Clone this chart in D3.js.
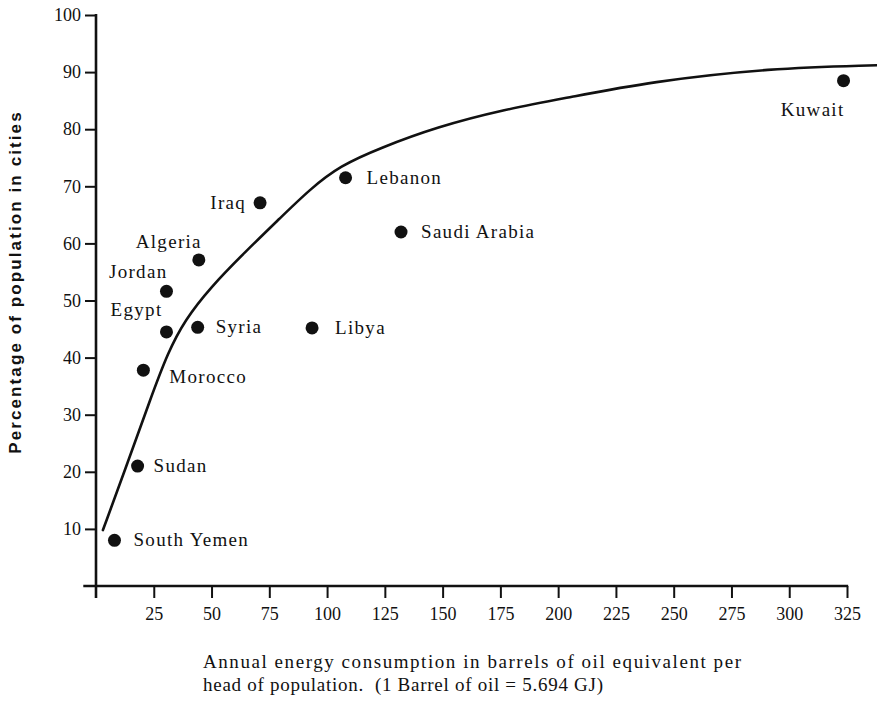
<!DOCTYPE html>
<html>
<head>
<meta charset="utf-8">
<script src="https://cdn.jsdelivr.net/npm/d3@7/dist/d3.min.js"></script>
<style>
  html, body { margin: 0; padding: 0; background: #fff; }
  svg { display: block; }
</style>
</head>
<body>
<svg id="chart" width="877" height="702"></svg>
<script>
// Urbanisation against energy use, Middle East and North Africa
const countries = ["South Yemen", "Sudan", "Morocco", "Egypt", "Jordan", "Syria",
                   "Algeria", "Iraq", "Libya", "Lebanon", "Saudi Arabia", "Kuwait"];
const energyUse = [8, 18, 20.5, 30.5, 30.5, 44, 44.5, 71, 93.5, 108, 132, 323.5];
const urbanPct  = [8, 21, 37.8, 44.5, 51.6, 45.3, 57.1, 67.1, 45.2, 71.5, 62, 88.5];

// Hand-fitted trend curve
const trendX = [3.0, 13.8, 23.4, 31.2, 38.5, 49.3, 64.5, 79.6, 92.6, 105.6, 122.9,
                147.6, 176.1, 205.1, 239.7, 291.7, 338.0];
const trendY = [9.8, 21.7, 32.6, 41.0, 46.6, 52.2, 58.5, 64.4, 69.5, 73.6, 76.7,
                80.4, 83.4, 85.6, 88.3, 90.7, 91.2];

const xTicks = [25, 50, 75, 100, 125, 150, 175, 200, 225, 250, 275, 300, 325];
const yTicks = [10, 20, 30, 40, 50, 60, 70, 80, 90, 100];

// Label placement next to each dot: anchor side and pixel offset
const labelPlace = [
  {a: "start", dx: 19, dy: 6},   // South Yemen
  {a: "start", dx: 16, dy: 6},   // Sudan
  {a: "start", dx: 26, dy: 13},  // Morocco
  {a: "end",   dx: -4, dy: -16}, // Egypt
  {a: "end",   dx: 1,  dy: -13}, // Jordan
  {a: "start", dx: 18, dy: 6},   // Syria
  {a: "end",   dx: 3,  dy: -12}, // Algeria
  {a: "end",   dx: -14, dy: 6},  // Iraq
  {a: "start", dx: 23, dy: 6},   // Libya
  {a: "start", dx: 21, dy: 6},   // Lebanon
  {a: "start", dx: 20, dy: 6},   // Saudi Arabia
  {a: "end",   dx: 1,  dy: 35}   // Kuwait
];

const serif = "'Liberation Serif', 'Times New Roman', serif";
const ink = "#111";

const svg = d3.select("#chart");
const x = d3.scaleLinear().domain([0, 325]).range([96, 847]);
const y = d3.scaleLinear().domain([0, 100]).range([586, 15]);

// X axis
const xAxis = svg.append("g")
  .attr("transform", `translate(0,${y(0)})`)
  .call(d3.axisBottom(x).tickValues(xTicks).tickSize(12).tickPadding(9).tickSizeOuter(0));
xAxis.select(".domain").remove();
xAxis.append("line")
  .attr("x1", x(-5.5)).attr("x2", x(325.5))
  .attr("y1", 0).attr("y2", 0)
  .attr("stroke", ink).attr("stroke-width", 2.6);
xAxis.selectAll(".tick line").attr("stroke", ink).attr("stroke-width", 2);
xAxis.selectAll(".tick text")
  .attr("fill", ink).style("font-family", serif).style("font-size", "18px");

// Y axis
const yAxis = svg.append("g")
  .attr("transform", `translate(${x(0)},0)`)
  .call(d3.axisLeft(y).tickValues(yTicks).tickSize(11).tickPadding(4).tickSizeOuter(0));
yAxis.select(".domain").remove();
yAxis.append("line")
  .attr("x1", 0).attr("x2", 0)
  .attr("y1", y(100) - 1).attr("y2", y(0) + 12)
  .attr("stroke", ink).attr("stroke-width", 2.6);
yAxis.selectAll(".tick line").attr("stroke", ink).attr("stroke-width", 2);
yAxis.selectAll(".tick text")
  .attr("fill", ink).style("font-family", serif).style("font-size", "18px");

// Trend curve (smoothed B-spline through the fitted points)
const line = d3.line()
  .x((d, i) => x(trendX[i]))
  .y((d, i) => y(trendY[i]))
  .curve(d3.curveBasis);
svg.append("path")
  .attr("d", line(trendX))
  .attr("fill", "none")
  .attr("stroke", ink)
  .attr("stroke-width", 2.6)
  .attr("stroke-linecap", "round");

// Points
svg.append("g").selectAll("circle")
  .data(countries)
  .join("circle")
  .attr("cx", (d, i) => x(energyUse[i]))
  .attr("cy", (d, i) => y(urbanPct[i]))
  .attr("r", 6.5)
  .attr("fill", ink);

// Country labels
svg.append("g").selectAll("text")
  .data(countries)
  .join("text")
  .attr("x", (d, i) => x(energyUse[i]) + labelPlace[i].dx)
  .attr("y", (d, i) => y(urbanPct[i]) + labelPlace[i].dy)
  .attr("text-anchor", (d, i) => labelPlace[i].a)
  .attr("fill", ink)
  .style("font-family", serif)
  .style("font-size", "19px")
  .style("letter-spacing", "1.3px")
  .text(d => d);

// Axis titles
svg.append("text")
  .attr("transform", "translate(21,282) rotate(-90)")
  .attr("text-anchor", "middle")
  .attr("fill", ink)
  .style("font-family", "'Liberation Sans', Arial, sans-serif")
  .style("font-weight", "bold")
  .style("font-size", "17px")
  .style("letter-spacing", "2.1px")
  .text("Percentage of population in cities");

const xTitle = svg.append("text")
  .attr("fill", ink)
  .style("font-family", serif)
  .style("font-size", "19px")
  .style("white-space", "pre");
xTitle.append("tspan").attr("x", 203).attr("y", 668)
  .attr("textLength", 538).attr("lengthAdjust", "spacing")
  .text("Annual energy consumption in barrels of oil equivalent per");
xTitle.append("tspan").attr("x", 203).attr("y", 691)
  .attr("textLength", 400).attr("lengthAdjust", "spacing")
  .text("head of population.  (1 Barrel of oil = 5.694 GJ)");
</script>
</body>
</html>
